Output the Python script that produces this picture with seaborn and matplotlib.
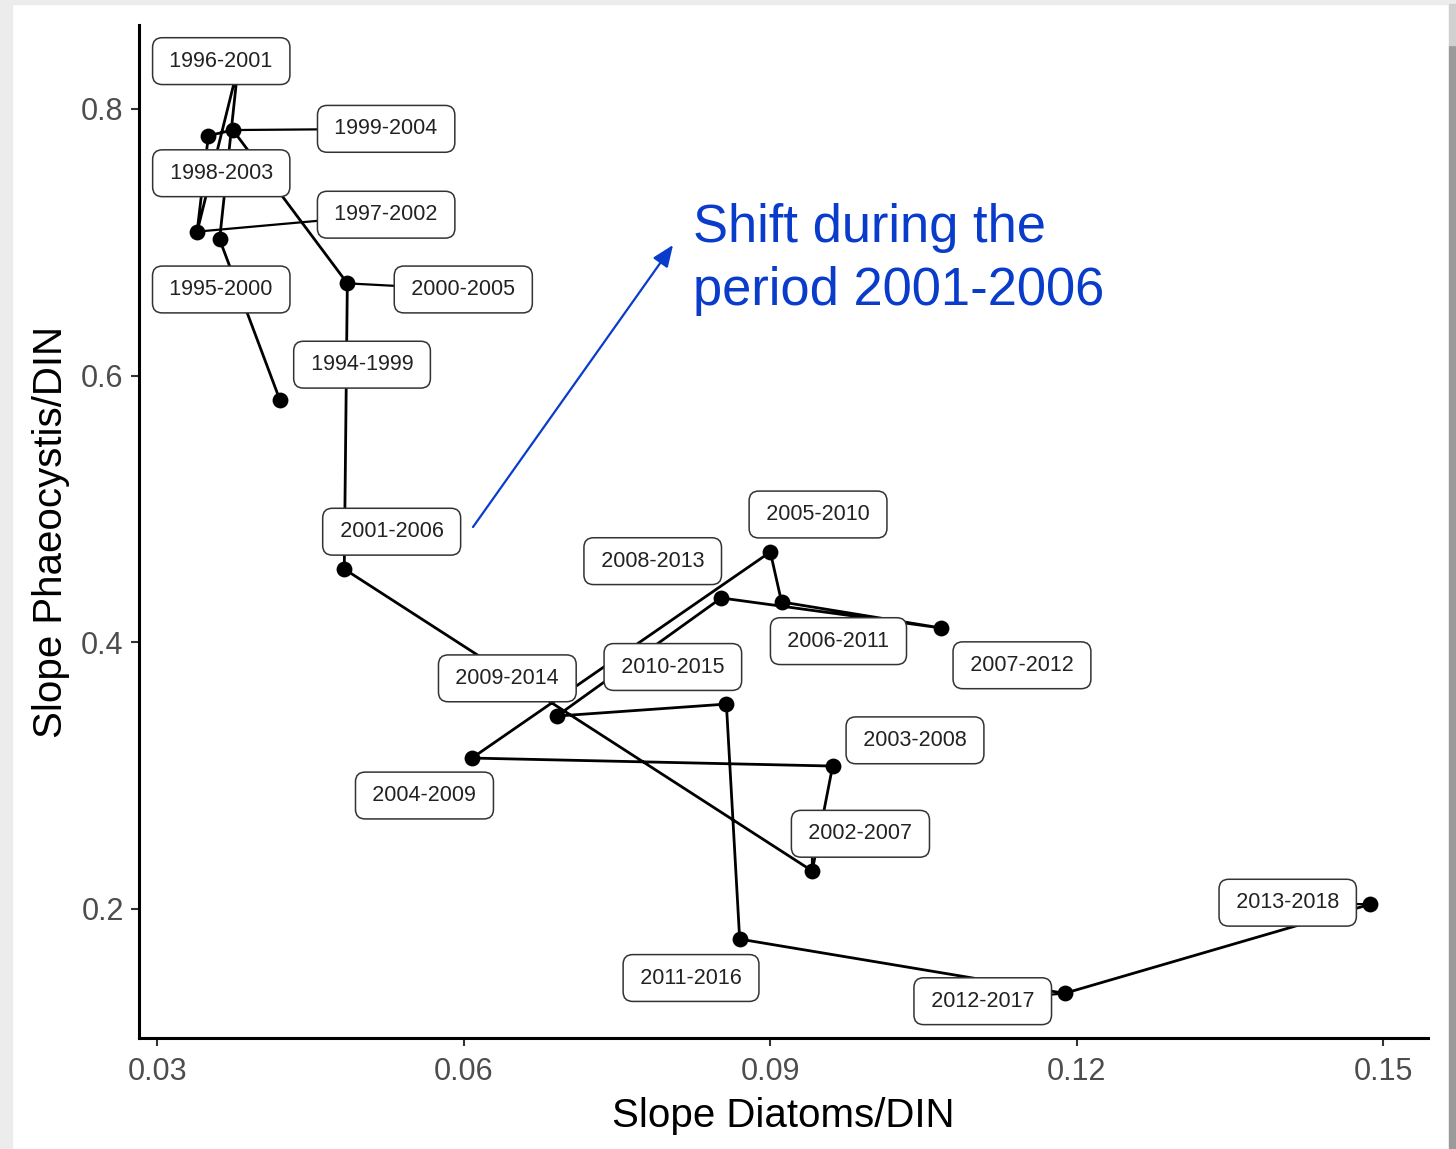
import numpy as np
import pandas as pd
import matplotlib
matplotlib.use("Agg")
import matplotlib.pyplot as plt
import matplotlib.patches as mpatches
import seaborn as sns

# ---------------- data ----------------
periods = ["1994-1999", "1995-2000", "1996-2001", "1997-2002", "1998-2003",
           "1999-2004", "2000-2005", "2001-2006", "2002-2007", "2003-2008",
           "2004-2009", "2005-2010", "2006-2011", "2007-2012", "2008-2013",
           "2009-2014", "2010-2015", "2011-2016", "2012-2017", "2013-2018"]
slope_diatoms = [0.0420, 0.0361, 0.0379, 0.0339, 0.0350,
                 0.0374, 0.0486, 0.0483, 0.0941, 0.0961,
                 0.0608, 0.0900, 0.0911, 0.1067, 0.0852,
                 0.0691, 0.0857, 0.0870, 0.1188, 0.1487]
slope_phaeo = [0.5817, 0.7022, 0.8315, 0.7080, 0.7800,
               0.7842, 0.6692, 0.4549, 0.2284, 0.3071,
               0.3131, 0.4677, 0.4302, 0.4107, 0.4332,
               0.3446, 0.3536, 0.1773, 0.1366, 0.2034]

# label (repel) positions, data coordinates
label_x = [0.05004, 0.03626, 0.03626, 0.05240, 0.03626,
           0.05240, 0.05995, 0.05294, 0.09882, 0.10416,
           0.05615, 0.09467, 0.09667, 0.11463, 0.07849,
           0.06426, 0.08046, 0.08224, 0.11079, 0.14064]
label_y = [0.6082, 0.6646, 0.8359, 0.7207, 0.7518,
           0.7851, 0.6646, 0.4829, 0.2563, 0.3264,
           0.2850, 0.4958, 0.4008, 0.3827, 0.4608,
           0.3729, 0.3814, 0.1481, 0.1307, 0.2046]
# labels whose leader segment is visible
segment_labels = ["1997-2002", "1999-2004", "2000-2005", "2002-2007",
                  "2012-2017", "2013-2018"]

annotation_lines = ["Shift during the", "period 2001-2006"]

df = pd.DataFrame({"period": periods, "diatoms": slope_diatoms,
                   "phaeo": slope_phaeo})

# ---------------- style ----------------
sns.set_theme(style="ticks")
plt.rcParams["font.family"] = ["Liberation Sans", "DejaVu Sans"]

W, H, DPI = 1456, 1149, 100
fig = plt.figure(figsize=(W / DPI, H / DPI), dpi=DPI)
fig.patch.set_facecolor("white")

# screenshot-like border strips
fig.patches.append(mpatches.Rectangle((0, 0), 12 / W, 1, transform=fig.transFigure,
                                      color="#ececec", zorder=0))
fig.patches.append(mpatches.Rectangle((0, 1 - 4 / H), 1, 4 / H, transform=fig.transFigure,
                                      color="#ececec", zorder=0))
fig.patches.append(mpatches.Rectangle((1 - 7 / W, 0), 7 / W, 1 - 45 / H, transform=fig.transFigure,
                                      color="#9a9a9a", zorder=0))
fig.patches.append(mpatches.Rectangle((1 - 7 / W, 1 - 45 / H), 7 / W, 41 / H, transform=fig.transFigure,
                                      color="#d0d0d0", zorder=0))

ax = fig.add_axes([139 / W, 1 - 1038 / H, (1428 - 139) / W, (1038 - 25) / H])
ax.set_facecolor("white")

xlim = (0.02821, 0.15437)
ylim = (0.1031, 0.8630)
ax.set_xlim(*xlim)
ax.set_ylim(*ylim)

sns.lineplot(data=df, x="diatoms", y="phaeo", sort=False, estimator=None,
             color="black", linewidth=2.0, ax=ax, zorder=2)
sns.scatterplot(data=df, x="diatoms", y="phaeo", color="black", s=130,
                edgecolor="black", linewidth=0, ax=ax, zorder=3)

# approximate label box half-size in data units (box ~136 x 46 px)
ax_w_px = 1428 - 139
ax_h_px = 1038 - 25
hw = 68 / ax_w_px * (xlim[1] - xlim[0])
hh = 23 / ax_h_px * (ylim[1] - ylim[0])

for p, px, py, lx, ly in zip(periods, slope_diatoms, slope_phaeo, label_x, label_y):
    if p in segment_labels:
        if lx - hw <= px <= lx + hw:
            ex = px
            ey = ly - hh if py < ly else ly + hh
        else:
            ex, ey = lx, ly
        ax.plot([px, ex], [py, ey], color="black", lw=1.6, zorder=2.5,
                solid_capstyle="butt")
    ax.text(lx, ly, "\u2009" + p + "\u2009", ha="center", va="center", fontsize=15.5,
            color="#222222", zorder=5,
            bbox=dict(boxstyle="round,pad=0.6,rounding_size=0.45",
                      facecolor="white", edgecolor="#333333", linewidth=1.1))

# blue annotation
blue = "#0A3CCB"
ax.text(0.08243, 0.70045, annotation_lines[0], ha="left", va="baseline",
        fontsize=37.8, color=blue, zorder=6)
ax.text(0.08243, 0.6530, annotation_lines[1], ha="left", va="baseline",
        fontsize=37.8, color=blue, zorder=6)
ax.annotate("", xy=(0.08048, 0.6980), xytext=(0.06090, 0.4864),
            arrowprops=dict(arrowstyle="-|>,head_length=1.1,head_width=0.45",
                            color=blue, lw=1.6, shrinkA=0, shrinkB=0), zorder=6)

ax.set_xticks([0.03, 0.06, 0.09, 0.12, 0.15])
ax.set_xticklabels(["0.03", "0.06", "0.09", "0.12", "0.15"])
ax.set_yticks([0.2, 0.4, 0.6, 0.8])
ax.set_yticklabels(["0.2", "0.4", "0.6", "0.8"])

for s in ["top", "right"]:
    ax.spines[s].set_visible(False)
for s in ["left", "bottom"]:
    ax.spines[s].set_linewidth(2.2)
    ax.spines[s].set_color("black")

ax.tick_params(axis="both", length=6, width=1.5, color="#333333",
               labelsize=22, labelcolor="#4D4D4D")
ax.tick_params(axis="x", pad=8)
ax.tick_params(axis="y", pad=5)
ax.set_xlabel("Slope Diatoms/DIN", fontsize=29, color="black", labelpad=7)
ax.set_ylabel("Slope Phaeocystis/DIN", fontsize=29, color="black", labelpad=8)

fig.savefig("out.png", dpi=DPI, facecolor=fig.get_facecolor())
